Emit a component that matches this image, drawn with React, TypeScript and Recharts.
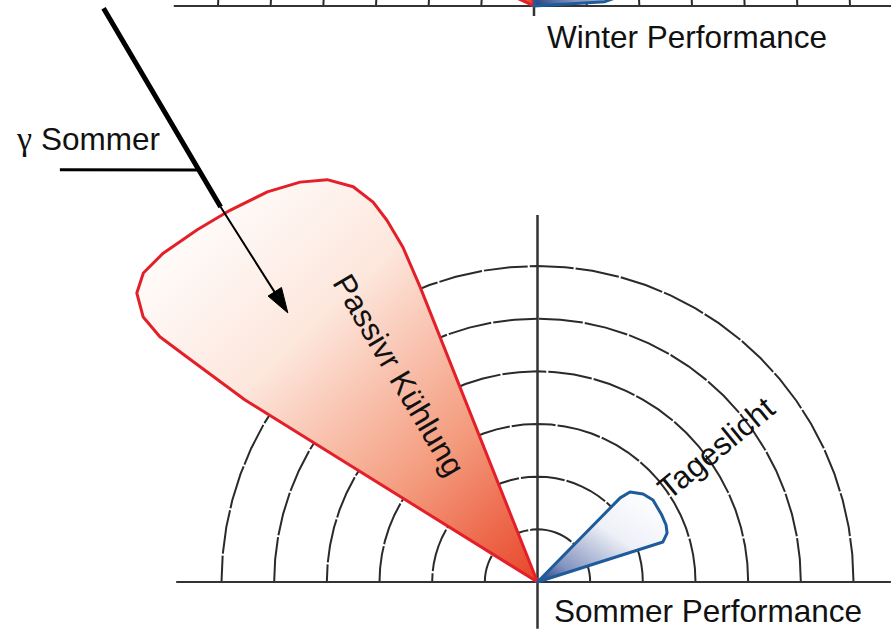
import type { ReactNode } from "react";
import { RadarChart, Radar, PolarGrid, PolarAngleAxis, PolarRadiusAxis } from "recharts";

// Angles in degrees, counter-clockwise from the right-hand axis.
// Radii in rings (ring 6 = outermost dashed arc).
const GRID_ANGLES = [
  0, 5, 10, 15, 20, 25, 30, 35, 40, 45, 50, 55, 60, 65, 70, 75, 80, 85, 90,
  95, 100, 105, 110, 115, 120, 125, 130, 135, 140, 145, 150, 155, 160, 165,
  170, 175, 180,
];
const RING_DOMAIN = [0, 6];

// Sommer diagram
const SUMMER_COOLING_ANGLE = [
  111.2, 111.7, 111.9, 112.6, 113.4, 115.0, 117.6, 120.7, 124.7, 129.6, 134.0,
  138.7, 141.9, 144.2, 146.1, 147.0, 147.3, 148.1, 148.1,
];
const SUMMER_COOLING_R = [
  0, 6.03, 6.85, 7.44, 7.86, 8.28, 8.62, 8.83, 9.01, 9.16, 9.3, 9.46, 9.51,
  9.38, 9.02, 8.55, 7.91, 6.54, 0,
];
const SUMMER_DAYLIGHT_ANGLE = [17.6, 17.7, 20.7, 23.9, 28.3, 35.4, 39.8, 44.2, 45.5, 45.5];
const SUMMER_DAYLIGHT_R = [0, 2.5, 2.63, 2.67, 2.68, 2.69, 2.61, 2.45, 2.24, 0];

const SUMMER_BASE_ANGLE = [0, 180];
const SUMMER_BASE_R = [6.71, 6.86];
const SUMMER_AXIS_ANGLE = [90, 270];
const SUMMER_AXIS_R = [6.97, 0.89];

// sun ray, arrow and the gamma angle line
const SUN_RAY_ANGLE = [127.1, 130.2];
const SUN_RAY_R = [13.66, 9.32];
const ARROW_SHAFT_ANGLE = [130.2, 132.2];
const ARROW_SHAFT_R = [9.32, 7.43];
const ARROW_HEAD_ANGLE = [131.0, 132.85, 133.3];
const ARROW_HEAD_R = [7.41, 6.97, 7.46];
const GAMMA_LINE_ANGLE = [139.2, 129.3];
const GAMMA_LINE_R = [11.98, 10.11];

// Winter diagram (mostly cut off at the top)
const WINTER_COOLING_ANGLE = [100, 101, 115, 135, 150, 155, 155];
const WINTER_COOLING_R = [0, 3.0, 4.0, 4.2, 4.0, 3.0, 0];
const WINTER_DAYLIGHT_ANGLE = [3, 3.5, 10, 25, 45, 65, 80, 80];
const WINTER_DAYLIGHT_R = [0, 1.35, 2.2, 2.6, 2.5, 2.0, 1.3, 0];
const WINTER_BASE_ANGLE = [0, 180];
const WINTER_BASE_R = [6.78, 6.84];
const WINTER_AXIS_ANGLE = [90, 270];
const WINTER_AXIS_R = [1.5, 0.55];

const W = 891;
const H = 629;
const RING_PX = 316;
const FONT = "'Liberation Sans', Arial, Helvetica, sans-serif";

const SUMMER_CX = 537.5;
const SUMMER_CY = 582;
const WINTER_CX = 534;
const TOP_H = 400;
const TOP_CY = 390;

function rows(key: string, angles: number[], radii: number[]) {
  return angles.map((a, i) => ({ angle: a, [key]: radii[i] }));
}

const summerData = [
  ...rows("base", SUMMER_BASE_ANGLE, SUMMER_BASE_R),
  ...rows("axis", SUMMER_AXIS_ANGLE, SUMMER_AXIS_R),
  ...rows("cooling", SUMMER_COOLING_ANGLE, SUMMER_COOLING_R),
  ...rows("daylight", SUMMER_DAYLIGHT_ANGLE, SUMMER_DAYLIGHT_R),
];

const winterData = [
  ...rows("base", WINTER_BASE_ANGLE, WINTER_BASE_R),
  ...rows("axis", WINTER_AXIS_ANGLE, WINTER_AXIS_R),
  ...rows("cooling", WINTER_COOLING_ANGLE, WINTER_COOLING_R),
  ...rows("daylight", WINTER_DAYLIGHT_ANGLE, WINTER_DAYLIGHT_R),
];

type FrameProps = {
  data: Record<string, number>[];
  cx: number;
  cy: number;
  height: number;
  top: number;
  grid?: boolean;
  children: ReactNode;
};

// one polar frame; annotation lines each get their own frame on top
function PolarFrame({ data, cx, cy, height, top, grid, children }: FrameProps) {
  return (
    <div style={{ position: "absolute", left: 0, top }}>
      <RadarChart
        width={W}
        height={height}
        data={data}
        cx={cx}
        cy={cy}
        innerRadius={0}
        outerRadius={RING_PX}
        startAngle={-90}
        endAngle={270}
        margin={{ top: 0, right: 0, bottom: 0, left: 0 }}
      >
        {grid && (
          <PolarGrid
            gridType="polygon"
            radialLines={false}
            polarAngles={GRID_ANGLES}
            stroke="#2a2a2a"
            strokeWidth={2}
            strokeDasharray="44 2"
          />
        )}
        <PolarAngleAxis
          dataKey="angle"
          type="number"
          domain={[-90, 270]}
          tick={false}
          tickLine={false}
          axisLine={false}
        />
        <PolarRadiusAxis
          type="number"
          domain={RING_DOMAIN}
          allowDataOverflow
          tickCount={7}
          tick={false}
          axisLine={false}
        />
        {children}
      </RadarChart>
    </div>
  );
}

const line = (key: string, width: number, color = "#333", fill = "none") => (
  <Radar
    key={key}
    dataKey={key}
    stroke={color}
    strokeWidth={width}
    fill={fill}
    fillOpacity={1}
    connectNulls
    dot={false}
    isAnimationActive={false}
  />
);

const lobe = (key: string, fill: string, stroke: string) => (
  <Radar
    key={key}
    dataKey={key}
    stroke={stroke}
    strokeWidth={3}
    strokeLinejoin="round"
    fill={fill}
    fillOpacity={1}
    connectNulls
    dot={false}
    isAnimationActive={false}
  />
);

function Gradients({ prefix }: { prefix: string }) {
  return (
    <defs>
      <linearGradient id={`${prefix}Cool`} x1="0.1" y1="0.05" x2="1" y2="1">
        <stop offset="0" stopColor="#ffffff" />
        <stop offset="0.35" stopColor="#fde7dd" />
        <stop offset="0.7" stopColor="#f49b7d" />
        <stop offset="1" stopColor="#e84428" />
      </linearGradient>
      <linearGradient id={`${prefix}Day`} x1="0.9" y1="0.05" x2="0" y2="1">
        <stop offset="0" stopColor="#ffffff" />
        <stop offset="0.4" stopColor="#eef0f7" />
        <stop offset="0.8" stopColor="#8393c0" />
        <stop offset="1" stopColor="#1f3c7d" />
      </linearGradient>
    </defs>
  );
}

export default function App() {
  const textStyle = { fontFamily: FONT, fontSize: 31.5, fill: "#111" };
  const summerFrame = { cx: SUMMER_CX, cy: SUMMER_CY, height: H, top: 0 };
  return (
    <div
      style={{
        position: "fixed",
        left: 0,
        top: 0,
        width: W,
        height: H,
        overflow: "hidden",
        background: "#fff",
      }}
    >
      <PolarFrame data={winterData} cx={WINTER_CX} cy={TOP_CY} height={TOP_H} top={6 - TOP_CY} grid>
        <Gradients prefix="winter" />
        {line("base", 2)}
        {line("axis", 2.5)}
        {lobe("cooling", "url(#winterCool)", "#e3202a")}
        {lobe("daylight", "url(#winterDay)", "#1d5b9a")}
      </PolarFrame>
      <PolarFrame data={summerData} {...summerFrame} grid>
        <Gradients prefix="summer" />
        {line("base", 2)}
        {line("axis", 2.5)}
        {lobe("cooling", "url(#summerCool)", "#e3202a")}
        {lobe("daylight", "url(#summerDay)", "#1d5b9a")}
      </PolarFrame>
      <PolarFrame data={rows("ray", SUN_RAY_ANGLE, SUN_RAY_R)} {...summerFrame}>
        {line("ray", 5, "#000")}
      </PolarFrame>
      <PolarFrame data={rows("shaft", ARROW_SHAFT_ANGLE, ARROW_SHAFT_R)} {...summerFrame}>
        {line("shaft", 2, "#000")}
      </PolarFrame>
      <PolarFrame data={rows("head", ARROW_HEAD_ANGLE, ARROW_HEAD_R)} {...summerFrame}>
        {line("head", 1, "#000", "#000")}
      </PolarFrame>
      <PolarFrame data={rows("gamma", GAMMA_LINE_ANGLE, GAMMA_LINE_R)} {...summerFrame}>
        {line("gamma", 3, "#000")}
      </PolarFrame>
      <svg
        width={W}
        height={H}
        style={{ position: "absolute", left: 0, top: 0, pointerEvents: "none" }}
      >
        <text x={547} y={48} {...textStyle}>
          Winter Performance
        </text>
        <text x={554} y={622} {...textStyle}>
          Sommer Performance
        </text>
        <text x={17} y={150} {...textStyle}>
          <tspan fontFamily="'Liberation Serif', serif" fontSize={34}>
            γ
          </tspan>
          <tspan x={41}>Sommer</tspan>
        </text>
        <text
          transform="translate(399 375) rotate(59.5)"
          textAnchor="middle"
          dominantBaseline="central"
          {...textStyle}
        >
          Passivr Kühlung
        </text>
        <text
          transform="translate(716 448) rotate(-39.5)"
          textAnchor="middle"
          dominantBaseline="central"
          {...textStyle}
        >
          Tageslicht
        </text>
      </svg>
    </div>
  );
}
